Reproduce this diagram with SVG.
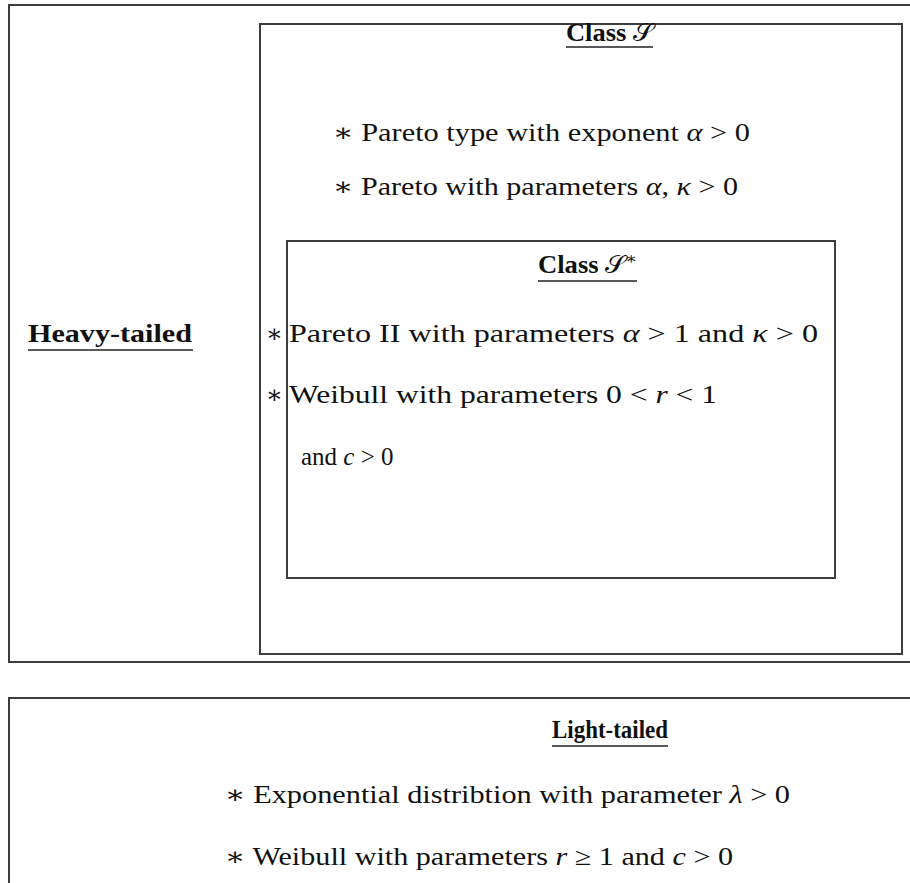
<svg xmlns="http://www.w3.org/2000/svg" width="910" height="883" viewBox="0 0 910 883">
<style>
.box{fill:none;stroke:#3c3c3c;stroke-width:2}
.t{font-family:"Liberation Serif","DejaVu Serif",serif;font-size:25px;fill:#111}
.b{font-weight:bold}
.i{font-style:italic}
.ul{stroke:#222;stroke-width:1.5}
</style>
<rect width="910" height="883" fill="#fff"/>
<g id="heavy">
<rect class="box" x="9" y="5" width="920" height="657"/>
<text class="t b" x="28" y="342" textLength="164" lengthAdjust="spacingAndGlyphs">Heavy-tailed</text>
<line class="ul" x1="28" y1="350" x2="193" y2="350"/>
</g>
<g id="classS">
<rect class="box" x="260" y="24" width="642" height="630"/>
<text class="t b" x="566" y="41" textLength="87" lengthAdjust="spacingAndGlyphs">Class <tspan font-weight="normal" font-family="DejaVu Sans, serif">𝒮</tspan></text>
<line class="ul" x1="566" y1="47" x2="653" y2="47"/>
<text class="t" x="333" y="141" textLength="417" lengthAdjust="spacingAndGlyphs">∗ Pareto type with exponent <tspan class="i">α</tspan> &gt; 0</text>
<text class="t" x="333" y="195" textLength="405" lengthAdjust="spacingAndGlyphs">∗ Pareto with parameters <tspan class="i">α</tspan>, <tspan class="i">κ</tspan> &gt; 0</text>
</g>
<g id="classSstar">
<rect class="box" x="287" y="241" width="548" height="337"/>
<text class="t b" x="538" y="273" textLength="99" lengthAdjust="spacingAndGlyphs">Class <tspan font-weight="normal" font-family="DejaVu Sans, serif">𝒮</tspan><tspan font-weight="normal" font-size="16" dy="-9">∗</tspan></text>
<line class="ul" x1="538" y1="281" x2="637" y2="281"/>
<text class="t" x="266" y="342">∗</text>
<text class="t" x="289" y="342" textLength="529" lengthAdjust="spacingAndGlyphs">Pareto II with parameters <tspan class="i">α</tspan> &gt; 1 and <tspan class="i">κ</tspan> &gt; 0</text>
<text class="t" x="266" y="403">∗</text>
<text class="t" x="289" y="403" textLength="428" lengthAdjust="spacingAndGlyphs">Weibull with parameters 0 &lt; <tspan class="i">r</tspan> &lt; 1</text>
<text class="t" x="301" y="465">and <tspan class="i">c</tspan> &gt; 0</text>
</g>
<g id="light">
<rect class="box" x="9" y="698" width="920" height="220"/>
<text class="t b" x="552" y="738" textLength="116" lengthAdjust="spacingAndGlyphs">Light-tailed</text>
<line class="ul" x1="552" y1="746" x2="668" y2="746"/>
<text class="t" x="225" y="803" textLength="565" lengthAdjust="spacingAndGlyphs">∗ Exponential distribtion with parameter <tspan class="i">λ</tspan> &gt; 0</text>
<text class="t" x="225" y="865" textLength="508" lengthAdjust="spacingAndGlyphs">∗ Weibull with parameters <tspan class="i">r</tspan> ≥ 1 and <tspan class="i">c</tspan> &gt; 0</text>
</g>
<g id="connectors"></g>
</svg>
